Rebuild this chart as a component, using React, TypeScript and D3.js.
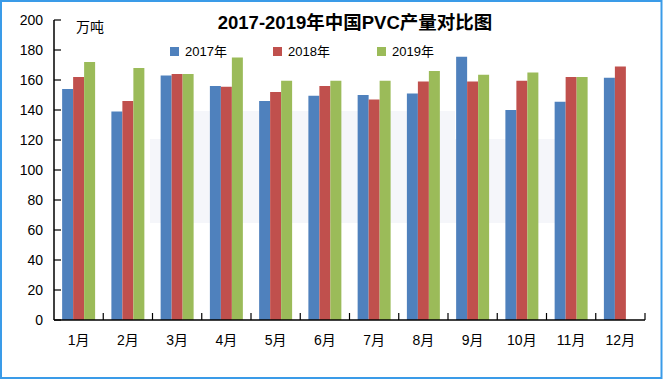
import React from "react";
import * as d3 from "d3";

const months = ["1月", "2月", "3月", "4月", "5月", "6月", "7月", "8月", "9月", "10月", "11月", "12月"];
const seriesNames = ["2017年", "2018年", "2019年"];
const seriesColors = ["#4F81BD", "#C0504D", "#9BBB59"];
const v2017 = [154, 139, 163, 156, 146, 149.5, 150, 151, 175.5, 140, 145.5, 161.5];
const v2018 = [162, 146, 164, 155.5, 152, 156, 147, 159, 159, 159.5, 162, 169];
const v2019: (number | null)[] = [172, 168, 164, 175, 159.5, 159.5, 159.5, 166, 163.5, 165, 162, null];
const yTicks = [0, 20, 40, 60, 80, 100, 120, 140, 160, 180, 200];
const title = "2017-2019年中国PVC产量对比图";
const unit = "万吨";

const W = 663;
const H = 380;
const left = 54;
const right = 645;
const top = 20;
const bottom = 320;

export default function App() {
  const x = d3.scaleBand<string>().domain(months).range([left, right]).padding(0);
  const inner = d3
    .scaleBand<string>()
    .domain(seriesNames)
    .range([0, x.bandwidth()])
    .paddingInner(0)
    .paddingOuter(0.74);
  const y = d3.scaleLinear().domain([0, 200]).range([bottom, top]);
  const all = [v2017, v2018, v2019];
  const font = "'Liberation Sans', 'Noto Sans CJK SC', sans-serif";

  return (
    <svg
      width={W}
      height={H}
      style={{ position: "absolute", left: 0, top: 0, background: "#fff" }}
      fontFamily={font}
    >
      <rect x={0} y={0} width={W} height={H} fill="#fff" />
      {/* faint watermark area */}
      <rect x={193} y={111} width={262} height={28} fill="#f5f6fa" />
      <rect x={150} y={139} width={405} height={84} fill="#f5f6fa" />
      <rect x={1} y={1} width={W - 2.5} height={H - 3} fill="none" stroke="#3a9be8" strokeWidth={2} />

      {all.map((vals, si) =>
        vals.map((v, i) =>
          v == null ? null : (
            <rect
              key={`${si}-${i}`}
              x={(x(months[i]) as number) + (inner(seriesNames[si]) as number)}
              y={y(v)}
              width={inner.bandwidth()}
              height={y(0) - y(v)}
              fill={seriesColors[si]}
            />
          )
        )
      )}

      {/* y axis */}
      <line x1={left} x2={left} y1={top} y2={bottom} stroke="#000" strokeWidth={1.5} />
      {yTicks.map((t) => (
        <g key={t}>
          <line x1={left} x2={left + 7} y1={y(t)} y2={y(t)} stroke="#000" strokeWidth={1.2} />
          <text x={43} y={y(t) + 5} textAnchor="end" fontSize={14} fill="#000">
            {t}
          </text>
        </g>
      ))}

      {/* x axis */}
      <line x1={left} x2={right} y1={bottom} y2={bottom} stroke="#000" strokeWidth={1.5} />
      {months.map((m, i) => (
        <line
          key={"t" + i}
          x1={(x(m) as number) + x.bandwidth()}
          x2={(x(m) as number) + x.bandwidth()}
          y1={bottom}
          y2={bottom - 7}
          stroke="#000"
          strokeWidth={1.2}
        />
      ))}
      {months.map((m) => (
        <text
          key={m}
          x={(x(m) as number) + x.bandwidth() / 2}
          y={345}
          textAnchor="middle"
          fontSize={14}
          fill="#000"
        >
          {m}
        </text>
      ))}

      <text x={355} y={29} textAnchor="middle" fontSize={18.5} fontWeight="bold" fill="#000">
        {title}
      </text>
      <text x={76} y={32} fontSize={14} fill="#000">
        {unit}
      </text>

      {seriesNames.map((s, i) => {
        const lx = [170, 273, 377][i];
        return (
          <g key={s}>
            <rect x={lx} y={47} width={9} height={9} fill={seriesColors[i]} />
            <text x={lx + 15} y={56} fontSize={13} fill="#000">
              {s}
            </text>
          </g>
        );
      })}
    </svg>
  );
}
